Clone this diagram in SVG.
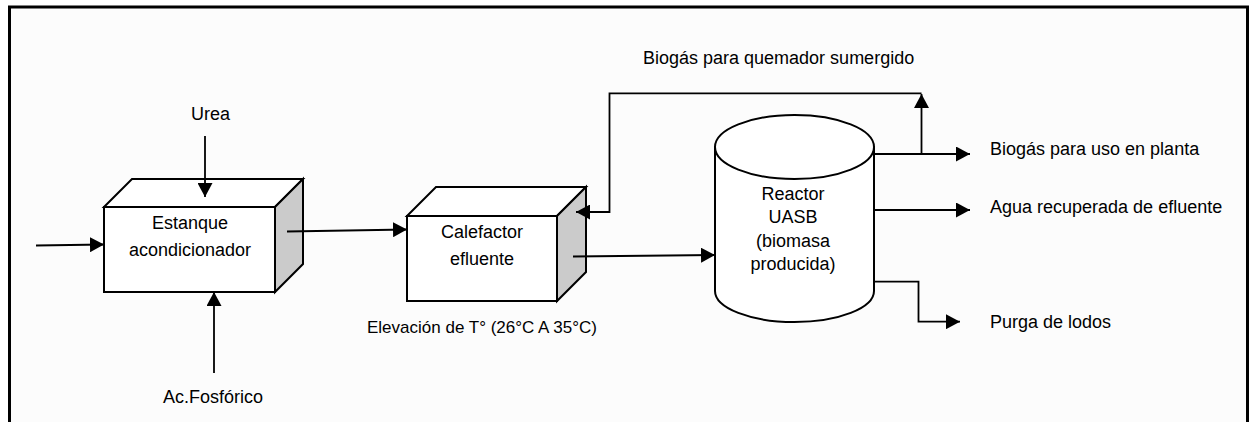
<svg xmlns="http://www.w3.org/2000/svg" width="1250" height="422" viewBox="0 0 1250 422">
  <style>
    .t { font-family: "Liberation Sans", Arial, sans-serif; font-size: 18px; fill: #000; }
    .c { text-anchor: middle; }
    .box { fill: #fff; stroke: #000; stroke-width: 2; stroke-linejoin: miter; }
    .side { fill: #cbcbcb; stroke: #000; stroke-width: 2; }
    .ln { fill: none; stroke: #000; stroke-width: 1.8; }
    .arr { marker-end: url(#ah); }
  </style>
  <defs>
    <marker id="ah" markerUnits="userSpaceOnUse" markerWidth="15" markerHeight="15" refX="14" refY="7.5" orient="auto" viewBox="0 0 15 15">
      <path d="M0,0 L14,7.5 L0,15 z" fill="#000"/>
    </marker>
  </defs>

  <rect x="0" y="0" width="1250" height="422" fill="#fff"/>
  <rect id="frame" x="9.5" y="7" width="1238" height="430" fill="#fcfcfc" stroke="#000" stroke-width="3"/>

  <g id="estanque">
    <polygon class="box" points="104,207 132,179 303,179 275,207"/>
    <polygon class="side" points="275,207 303,179 303,264 275,292"/>
    <rect class="box" x="104" y="207" width="171" height="85"/>
    <text class="t c" x="190" y="229">Estanque</text>
    <text class="t c" x="190" y="256">acondicionador</text>
  </g>

  <g id="calefactor">
    <polygon class="box" points="407,216 436,187 586,187 557,216"/>
    <polygon class="side" points="557,216 586,187 586,272 557,301"/>
    <rect class="box" x="407" y="216" width="150" height="85"/>
    <text class="t c" x="482" y="238">Calefactor</text>
    <text class="t c" x="482" y="265">efluente</text>
  </g>

  <g id="reactor">
    <path class="box" d="M715,147 L715,291 A79.5,31 0 0 0 874,291 L874,147 Z"/>
    <ellipse class="box" cx="794.5" cy="147" rx="79.5" ry="32"/>
    <text class="t c" x="793" y="200">Reactor</text>
    <text class="t c" x="793" y="223">UASB</text>
    <text class="t c" x="793" y="247">(biomasa</text>
    <text class="t c" x="793" y="270">producida)</text>
  </g>

  <g id="connectors">
    <line class="ln arr" x1="36" y1="245.5" x2="104" y2="244.5"/>
    <line class="ln arr" x1="205" y1="136" x2="205" y2="197"/>
    <line class="ln arr" x1="214" y1="373" x2="214" y2="292"/>
    <line class="ln arr" x1="287" y1="231.5" x2="407" y2="229.5"/>
    <line class="ln arr" x1="573" y1="256.5" x2="715" y2="255"/>
    <line class="ln arr" x1="874" y1="154" x2="970" y2="154"/>
    <line class="ln arr" x1="921.5" y1="154" x2="921.5" y2="94"/>
    <polyline class="ln arr" points="921.5,93.3 609.5,93.3 609.5,212 576,212"/>
    <line class="ln arr" x1="874" y1="210" x2="970" y2="210"/>
    <polyline class="ln arr" points="874,281.7 918.5,281.7 918.5,321.7 960,321.7"/>
  </g>

  <g id="labels">
    <text class="t" x="643" y="64">Biogás para quemador sumergido</text>
    <text class="t" x="990" y="155">Biogás para uso en planta</text>
    <text class="t" x="990" y="213">Agua recuperada de efluente</text>
    <text class="t" x="990" y="328">Purga de lodos</text>
    <text class="t c" x="210.5" y="119.5">Urea</text>
    <text class="t" x="163" y="403">Ac.Fosfórico</text>
    <text class="t" x="367" y="333" style="font-size:17px">Elevación de T° (26°C A 35°C)</text>
  </g>
</svg>
